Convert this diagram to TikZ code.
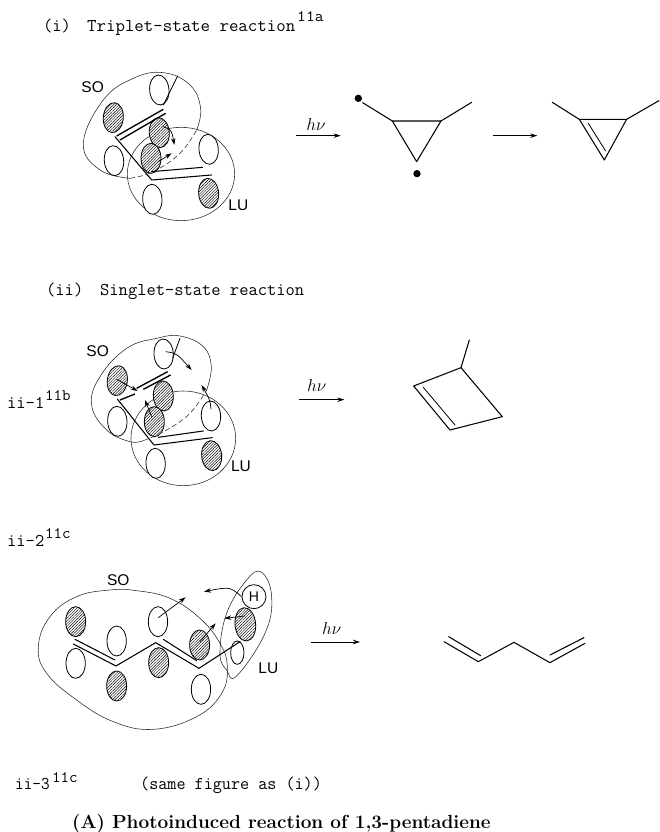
\documentclass[tikz,border=0pt]{standalone}
\usepackage{fontspec}
\usepackage{graphicx}
\usetikzlibrary{arrows.meta,patterns.meta}
\newfontfamily\lblfont{Liberation Sans}
\newcommand{\orbO}[3][0]{\draw[orbopen,shift={(#2,#3)},rotate=#1] (0,0) ellipse [x radius=29,y radius=45];}
\newcommand{\orbH}[3][0]{\draw[orbhatch,shift={(#2,#3)},rotate=#1] (0,0) ellipse [x radius=30,y radius=45];}
\newcommand{\tw}[3]{\scalebox{#1}[1]{\fontsize{#2}{#2}\selectfont\ttfamily #3}}
\tikzset{
  x=1pt,y=-1pt,
  orbopen/.style={draw=black,line width=.8pt,fill=white},
  orbhatch/.style={draw=black,line width=.8pt,preaction={fill=white},pattern={Lines[angle=45,distance=2pt,line width=.45pt]}},
  outline/.style={draw=black!85,line width=.55pt},
  outdash/.style={draw=black!85,line width=.55pt,dash pattern=on 5pt off 3pt},
  bond/.style={draw=black,line width=1.05pt,line cap=round,line join=round},
  dbl/.style={draw=black,line width=1.35pt},
  thinb/.style={draw=black,line width=.8pt,line cap=round,line join=round},
  mv/.style={draw=black,line width=.7pt,-{Stealth[length=7pt,width=4.5pt]}},
  rxn/.style={draw=black,line width=.8pt,-{Stealth[length=7pt,width=4.5pt]}},
  lbl/.style={font=\lblfont\fontsize{15.5}{15.5}\selectfont,inner sep=0pt},
  hnu/.style={inner sep=0pt,font=\fontsize{18}{18}\selectfont},
  txt/.style={anchor=base west,inner sep=0pt},
}
\begin{document}
\begin{tikzpicture}
\useasboundingbox (0,0) rectangle (659,832);
% texts
\node[txt] (t1) at (43,32) {\tw{1.0}{18}{(i)}};
\node[txt] (t2) at (87,32) {\tw{1.02}{18}{Triplet-state reaction}};
\node[txt] (t3) at (297,22) {\tw{1.07}{16}{11a}};
\node[txt] (t4) at (46,295) {\tw{1.0}{18}{(ii)}};
\node[txt] (t5) at (100,295) {\tw{1.0}{18}{Singlet-state reaction}};
\node[txt] (t6) at (7,408) {\tw{1.0}{18}{ii-1}};
\node[txt] (t7) at (45,400) {\tw{1.03}{16}{11b}};
\node[txt] (t8) at (7,546) {\tw{1.0}{18}{ii-2}};
\node[txt] (t9) at (45,538) {\tw{1.03}{16}{11c}};
\node[txt] (t10) at (15,789) {\tw{.93}{18}{ii-3}};
\node[txt] (t11) at (52,782) {\tw{1.03}{16}{11c}};
\node[txt] (t12) at (140,789) {\tw{.98}{18}{(same figure as (i))}};
\node[txt,font=\bfseries\fontsize{19}{19}\selectfont] (t13) at (72,828) {(A) Photoinduced reaction of 1,3-pentadiene};
%
% Group 1
\begin{scope}[shift={(20,30)},x=0.3333pt,y=-0.3333pt]
\draw[outline] plot[smooth,tension=.7] coordinates {(530,300)(542,235)(510,165)(430,128)(340,145)(250,210)(190,340)(240,420)(330,445)};
\draw[outdash] plot[smooth,tension=.7] coordinates {(330,445)(400,425)(480,370)(530,300)};
\draw[outline] (483,432) ellipse [x radius=161,y radius=140];
\orbO[5]{418}{180}\orbH[-5]{280}{263}\orbH[5]{418}{308}\orbH{393}{385}\orbO[5]{282}{392}\orbO[5]{566}{358}\orbO[3]{397}{508}\orbH[5]{566}{490}
\draw[thinb] (473,138)--(430,225);
\draw[dbl] (430,238)--(290,318);
\draw[dbl] (437,250)--(300,330);
\draw[bond] (285,320)--(395,450)--(575,435);
\draw[bond] (395,425)--(548,412);
\draw[mv] (430,290) .. controls (455,300) .. (463,345);
\draw[mv] (415,395)--(455,370);
\node[lbl] (so1) at (218,172) {SO};
\node[lbl] (lu1) at (655,525) {LU};
\end{scope}
% products 1
\begin{scope}[shift={(280,70)},x=0.3333pt,y=-0.3333pt]
\node[hnu] (hv1) at (108,163) {$h\nu$};
\coordinate (a1) at (48,197); \coordinate (a2) at (182,197);
\draw[rxn] (a1)--(a2);
\fill (235,85) circle [radius=11];
\fill (411,311) circle [radius=11];
\draw[bond] (248,98)--(337,153);
\draw[bond] (337,153)--(483,153)--(410,275)--cycle;
\draw[bond] (483,153)--(575,97);
\draw[rxn] (640,197)--(772,197);
\draw[bond] (817,97)--(898,148);
\draw[bond] (898,148)--(1040,148)--(973,270)--cycle;
\draw[bond] (1040,148)--(1137,92);
\draw[thinb] (925,160)--(977,243);
\end{scope}
%
% Group 2
\begin{scope}[shift={(0,320)},x=0.3333pt,y=-0.3333pt]
\draw[outline] plot[smooth,tension=.7] coordinates {(620,210)(634,140)(610,80)(540,48)(470,55)(380,85)(300,170)(275,255)(320,330)(390,365)(430,362)};
\draw[outdash] plot[smooth,tension=.7] coordinates {(430,362)(500,330)(570,280)(620,210)};
\draw[outline] (550,355) ellipse [x radius=157,y radius=142];
\orbO[3]{491}{102}\orbH[-8]{352}{182}\orbH[3]{490}{228}\orbH{463}{305}\orbO[3]{352}{304}\orbO[3]{633}{288}\orbO[3]{467}{430}\orbH[5]{635}{407}
\draw[thinb] (540,55)--(518,115);
\draw[dbl] (503,155)--(410,205);
\draw[dbl] (512,165)--(430,208);
\draw[dbl] (405,222)--(360,240);
\draw[bond] (352,237)--(462,375)--(637,353);
\draw[bond] (475,352)--(610,333);
\draw[mv] (497,95) .. controls (530,100) .. (575,150);
\draw[mv] (350,178)--(413,213);
\draw[mv] (455,290)--(435,240);
\draw[mv] (633,268) .. controls (630,240) .. (605,195);
\node[lbl] (so2) at (293,92) {SO};
\node[lbl] (lu2) at (723,440) {LU};
\end{scope}
% product 2
\begin{scope}[shift={(280,340)},x=0.3333pt,y=-0.3333pt]
\node[hnu] (hv2) at (110,138) {$h\nu$};
\draw[rxn] (57,179)--(193,179);
\draw[bond] (568,0)--(543,83);
\draw[bond] (543,83)--(401,138)--(510,270)--(667,230)--cycle;
\draw[thinb] (430,142)--(525,255);
\end{scope}
%
% Group 3
\begin{scope}[shift={(20,540)},x=0.3333pt,y=-0.3333pt]
\draw[outline] plot[smooth cycle,tension=.7] coordinates {(55,320)(90,230)(170,170)(270,150)(350,152)(450,175)(540,235)(600,310)(622,380)(605,460)(530,530)(400,568)(280,545)(170,480)(80,400)};
\orbH{167}{245}\orbO{167}{370}\orbO{290}{303}\orbH{290}{438}\orbO{414}{245}\orbH{416}{368}\orbH{539}{315}\orbO{543}{448}
\draw[orbopen] (652,338) ellipse [x radius=20,y radius=35];
\draw[orbhatch,shift={(676,253)},rotate=5] (0,0) ellipse [x radius=31,y radius=50];
\draw[outline] plot[smooth cycle,tension=.7] coordinates {(725,97)(755,170)(735,280)(650,408)(620,390)(600,340)(620,220)(680,120)};
\draw[bond] (160,312)--(288,378)--(407,308)--(537,385)--(660,305);
\draw[bond] (165,298)--(285,360);
\draw[bond] (430,298)--(530,362);
\node[draw=black,line width=.8pt,circle,minimum size=24pt,inner sep=0pt,fill=white,font=\lblfont\fontsize{14}{14}\selectfont] (hh) at (702,170) {H};
\draw[mv] (415,233)--(497,172);
\draw[mv] (hh.west) .. controls (630,140) .. (552,155);
\draw[mv] (675,228)--(613,235);
\draw[mv] (540,305)--(587,250);
\node[lbl] (so3) at (295,120) {SO};
\node[lbl] (lu3) at (745,385) {LU};
\end{scope}
% product 3
\begin{scope}[shift={(290,590)},x=0.3333pt,y=-0.3333pt]
\node[hnu] (hv3) at (125,115) {$h\nu$};
\draw[rxn] (63,156)--(210,156);
\draw[bond] (462,155)--(565,215)--(672,157)--(780,218)--(885,160);
\draw[bond] (476,140)--(572,197);
\draw[bond] (780,195)--(882,143);
\end{scope}
\end{tikzpicture}
\end{document}
